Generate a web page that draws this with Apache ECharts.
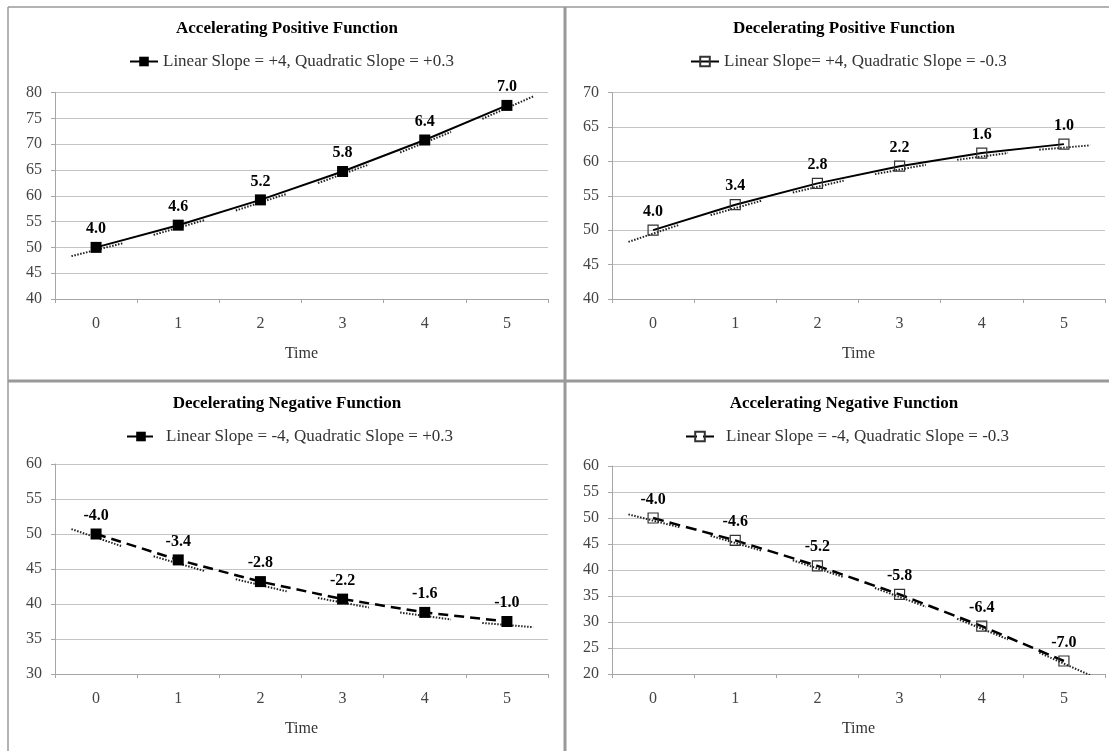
<!DOCTYPE html>
<html>
<head>
<meta charset="utf-8">
<script src="https://cdn.jsdelivr.net/npm/echarts@6/dist/echarts.min.js"></script>
<style>
html,body{margin:0;padding:0;background:#fff;}
#chart{width:1109px;height:751px;}
</style>
</head>
<body>
<div id="chart"></div>
<script>
// ---- data ----
const times = [0, 1, 2, 3, 4, 5];
const xTickLabels = ['0', '1', '2', '3', '4', '5'];

const titles = ['Accelerating Positive Function', 'Decelerating Positive Function',
                'Decelerating Negative Function', 'Accelerating Negative Function'];
const seriesNames = ['Linear Slope = +4, Quadratic Slope = +0.3',
                     'Linear Slope= +4, Quadratic Slope = -0.3',
                     'Linear Slope = -4, Quadratic Slope = +0.3',
                     'Linear Slope = -4, Quadratic Slope = -0.3'];

const accPosValues = [50, 54.3, 59.2, 64.7, 70.8, 77.5];
const accPosLabels = ['4.0', '4.6', '5.2', '5.8', '6.4', '7.0'];
const decPosValues = [50, 53.7, 56.8, 59.3, 61.2, 62.5];
const decPosLabels = ['4.0', '3.4', '2.8', '2.2', '1.6', '1.0'];
const decNegValues = [50, 46.3, 43.2, 40.7, 38.8, 37.5];
const decNegLabels = ['-4.0', '-3.4', '-2.8', '-2.2', '-1.6', '-1.0'];
const accNegValues = [50, 45.7, 40.8, 35.3, 29.2, 22.5];
const accNegLabels = ['-4.0', '-4.6', '-5.2', '-5.8', '-6.4', '-7.0'];

const yMins = [40, 40, 30, 20];
const yMaxs = [80, 70, 60, 60];
const yStep = 5;

// ---- layout / style ----
const FONT = 'Liberation Serif';
const panels = [
  {values: accPosValues, labels: accPosLabels, grid: {left: 55, top: 92.5, width: 493, height: 206.5},
   titleX: 287, titleY: 20, legendX: 129, legendY: 53, hollow: false, dash: 'solid', textPad: 0},
  {values: decPosValues, labels: decPosLabels, grid: {left: 612, top: 92.5, width: 493, height: 206.5},
   titleX: 844, titleY: 20, legendX: 690, legendY: 53, hollow: true, dash: 'solid', textPad: 0},
  {values: decNegValues, labels: decNegLabels, grid: {left: 55, top: 464, width: 493, height: 210},
   titleX: 287, titleY: 395, legendX: 126, legendY: 428, hollow: false, dash: [10, 6], textPad: 6},
  {values: accNegValues, labels: accNegLabels, grid: {left: 612, top: 466, width: 493, height: 208},
   titleX: 844, titleY: 395, legendX: 685, legendY: 428, hollow: true, dash: [11, 6], textPad: 7}
];

const option = {
  animation: false,
  backgroundColor: '#fff',
  title: [], legend: [], grid: [], xAxis: [], yAxis: [], series: [],
  graphic: [
    {type: 'line', shape: {x1: 8, y1: 7, x2: 8, y2: 751}, style: {stroke: '#9a9a9a', lineWidth: 1.5}, z: 100},
    {type: 'line', shape: {x1: 8, y1: 7, x2: 1109, y2: 7}, style: {stroke: '#9a9a9a', lineWidth: 1.5}, z: 100},
    {type: 'line', shape: {x1: 565, y1: 7, x2: 565, y2: 751}, style: {stroke: '#999', lineWidth: 3}, z: 100},
    {type: 'line', shape: {x1: 8, y1: 381, x2: 1109, y2: 381}, style: {stroke: '#999', lineWidth: 3}, z: 100}
  ]
};

panels.forEach(function (p, i) {
  option.title.push({
    text: titles[i], left: p.titleX, top: p.titleY, textAlign: 'center', padding: 0,
    textStyle: {fontFamily: FONT, fontWeight: 'bold', fontSize: 17, color: '#000'}
  });
  option.legend.push({
    data: [seriesNames[i]], left: p.legendX, top: p.legendY, padding: 0,
    itemWidth: 28, itemHeight: 12,
    textStyle: {fontFamily: FONT, fontSize: 17, color: '#333', padding: [0, 0, 0, p.textPad]}
  });
  option.grid.push(Object.assign({containLabel: false}, p.grid));
  option.xAxis.push({
    type: 'category', gridIndex: i, data: xTickLabels, boundaryGap: true,
    axisLine: {onZero: false, lineStyle: {color: '#a6a6a6', width: 1}},
    axisTick: {show: true, length: 4, alignWithLabel: false, lineStyle: {color: '#a6a6a6'}},
    axisLabel: {fontFamily: FONT, fontSize: 16, color: '#444', margin: 17},
    splitLine: {show: false},
    name: 'Time', nameLocation: 'middle', nameGap: 47,
    nameTextStyle: {fontFamily: FONT, fontSize: 16, color: '#333'}
  });
  option.xAxis.push({
    type: 'value', gridIndex: i, min: -0.5, max: 5.5, show: false,
    axisLine: {onZero: false}
  });
  option.yAxis.push({
    type: 'value', gridIndex: i, min: yMins[i], max: yMaxs[i], interval: yStep,
    axisLine: {show: true, onZero: false, lineStyle: {color: '#a6a6a6', width: 1}},
    axisTick: {show: true, length: 4, lineStyle: {color: '#a6a6a6'}},
    axisLabel: {fontFamily: FONT, fontSize: 16, color: '#444', margin: 13},
    splitLine: {show: true, lineStyle: {color: '#c4c4c4', width: 1}}
  });

  // tangent (dotted) segments at each point, slope = the printed label
  const segs = times.map(function (t, k) {
    const s = parseFloat(p.labels[k]);
    const v = p.values[k];
    const off = -0.5;
    return {coords: [[t - 0.3, v - 0.3 * s + off], [t + 0.32, v + 0.32 * s + off]]};
  });
  option.series.push({
    type: 'lines', coordinateSystem: 'cartesian2d', xAxisIndex: 2 * i + 1, yAxisIndex: i,
    data: segs, silent: true, z: 2,
    lineStyle: {color: '#222', width: 2, type: [1.5, 1.5], opacity: 1}
  });

  option.series.push({
    name: seriesNames[i], type: 'line', xAxisIndex: 2 * i + 1, yAxisIndex: i,
    data: times.map(function (t, k) { return [t, p.values[k]]; }),
    symbol: 'rect', symbolSize: p.hollow ? 10 : 11,
    showAllSymbol: true, z: 3,
    lineStyle: {color: '#000', width: p.dash === 'solid' ? 2 : 2.5, type: p.dash},
    itemStyle: p.hollow ? {color: 'rgba(255,255,255,0)', borderColor: '#333', borderWidth: 1.2}
                        : {color: '#000', borderColor: '#000', borderWidth: 0},
    label: {
      show: true, position: 'top', distance: 5,
      formatter: function (prm) { return p.labels[prm.dataIndex]; },
      fontFamily: FONT, fontWeight: 'bold', fontSize: 16, color: '#000'
    }
  });
});

const chart = echarts.init(document.getElementById('chart'), null, {renderer: 'canvas'});
chart.setOption(option);
</script>
</body>
</html>
